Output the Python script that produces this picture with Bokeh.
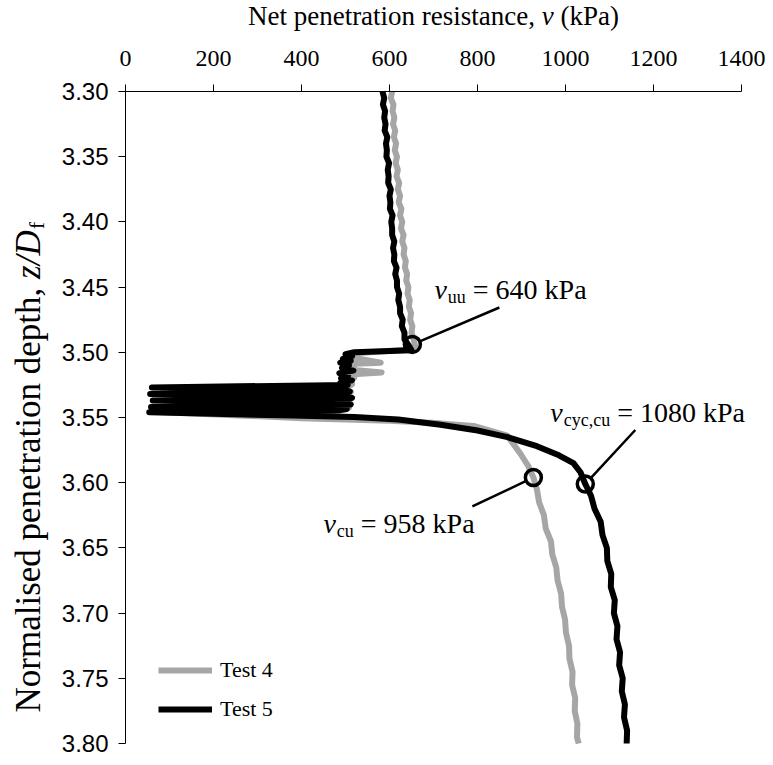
from bokeh.plotting import figure
from bokeh.models import Range1d, Label, Legend, LegendItem, FixedTicker, NumeralTickFormatter, LinearAxis
from bokeh.embed import file_html
from bokeh.resources import INLINE

# ---------------- data ----------------
x_ticks = [0, 200, 400, 600, 800, 1000, 1200, 1400]
y_ticks = [3.30, 3.35, 3.40, 3.45, 3.50, 3.55, 3.60, 3.65, 3.70, 3.75, 3.80]

# Test 4 (grey)
t4_z = [3.300, 3.305, 3.310, 3.315, 3.320, 3.325, 3.330, 3.335, 3.340, 3.345,
        3.350, 3.355, 3.360, 3.365, 3.370, 3.375, 3.380, 3.385, 3.390, 3.395,
        3.400, 3.405, 3.410, 3.415, 3.420, 3.425, 3.430, 3.435, 3.440, 3.445,
        3.450, 3.455, 3.460, 3.465, 3.470, 3.475, 3.480, 3.485, 3.490, 3.495,
        3.4975, 3.5005, 3.5025, 3.5045, 3.5080, 3.5090, 3.5110, 3.5130, 3.5155, 3.5170,
        3.5195, 3.5220, 3.5245, 3.5275, 3.5305, 3.5335, 3.5365, 3.5395, 3.5425, 3.5455,
        3.5505, 3.5525, 3.5545, 3.5565, 3.5640, 3.5780, 3.5870, 3.5960,
        3.605, 3.615, 3.625, 3.635, 3.645, 3.655, 3.665, 3.675, 3.685, 3.695,
        3.705, 3.715, 3.725, 3.735, 3.745, 3.755, 3.765, 3.775, 3.785, 3.795, 3.800]
t4_v = [606, 603, 609, 607, 611, 608, 613, 610, 615, 612,
        617, 614, 619, 616, 622, 619, 624, 621, 627, 624,
        629, 626, 632, 629, 634, 632, 637, 635, 640, 638,
        643, 641, 646, 644, 649, 647, 652, 650, 655, 658,
        660, 532, 510, 524, 580, 506, 520, 502, 582, 508,
        520, 500, 515, 498, 512, 496, 510, 494, 508, 62,
        400, 600, 716, 791, 868, 898, 915, 927,
        935, 940, 951, 955, 967, 970, 979, 982, 990, 992,
        999, 1001, 1008, 1009, 1016, 1015, 1022, 1021, 1027, 1026, 1030]

# Test 5 (black)
t5_z = [3.300, 3.305, 3.310, 3.315, 3.320, 3.325, 3.330, 3.335, 3.340, 3.345,
        3.350, 3.355, 3.360, 3.365, 3.370, 3.375, 3.380, 3.385, 3.390, 3.395,
        3.400, 3.405, 3.410, 3.415, 3.420, 3.425, 3.430, 3.435, 3.440, 3.445,
        3.450, 3.455, 3.460, 3.465, 3.470, 3.475, 3.480, 3.485, 3.490, 3.495,
        3.4985, 3.5000, 3.5015, 3.5030, 3.5050, 3.5065, 3.5080, 3.5100, 3.5120, 3.5140,
        3.5160, 3.5180, 3.5200, 3.5215, 3.5235, 3.5250, 3.5270, 3.5285, 3.5300, 3.5320,
        3.5335, 3.5350, 3.5370, 3.5385, 3.5400, 3.5420, 3.5435, 3.5445, 3.5460, 3.5472,
        3.5485, 3.5497, 3.5515, 3.5555, 3.5600, 3.5650, 3.5720, 3.5790, 3.5850, 3.5920,
        3.6010, 3.610, 3.620, 3.630, 3.640, 3.650, 3.660, 3.670, 3.680, 3.690,
        3.700, 3.710, 3.720, 3.730, 3.740, 3.750, 3.760, 3.770, 3.780, 3.790, 3.800]
t5_v = [584, 588, 585, 590, 588, 591, 589, 595, 592, 594,
        593, 599, 596, 598, 597, 603, 600, 602, 601, 607,
        604, 606, 606, 611, 608, 611, 610, 616, 613, 617,
        617, 622, 620, 624, 624, 630, 628, 634, 634, 644,
        650, 520, 500, 515, 494, 512, 488, 508, 492, 518,
        486, 506, 490, 515, 488, 505, 60, 486, 510, 56,
        496, 515, 62, 490, 512, 58, 503, 486, 54, 200,
        380, 520, 620, 716, 800, 868, 935, 985, 1018, 1034,
        1045, 1058, 1066, 1080, 1084, 1094, 1095, 1104, 1103, 1112,
        1110, 1118, 1116, 1124, 1122, 1130, 1128, 1135, 1133, 1140, 1139]

# annotated points
annot_v = [652, 927, 1045]
annot_z = [3.494, 3.596, 3.601]
annot_sub = ["uu", "cu", "cyc,cu"]
annot_val = ["640", "958", "1080"]

series_names = ["Test 4", "Test 5"]

# ---------------- layout ----------------
W, H = 773, 765
BL, BR, BT, BB = 125, 32, 91, 22          # data area inset inside the canvas (px)
FW = W - BL - BR
FH = H - BT - BB
X0, X1 = 0, 1400
Y0, Y1 = 3.30, 3.80
px_x = (X1 - X0) / FW
px_y = (Y1 - Y0) / FH

p = figure(width=W, height=H, output_backend="svg", toolbar_location=None,
           x_range=Range1d(X0 - BL * px_x, X1 + BR * px_x),
           y_range=Range1d(Y1 + BB * px_y, Y0 - BT * px_y),
           x_axis_type=None, y_axis_type=None,
           min_border_left=0, min_border_right=0, min_border_top=0, min_border_bottom=0)
p.outline_line_color = None
p.background_fill_color = "white"
p.border_fill_color = "white"

SERIF = "Liberation Serif"
SANS = "Liberation Sans"

xax = LinearAxis(fixed_location=Y0, bounds=(X0, X1), ticker=FixedTicker(ticks=x_ticks))
yax = LinearAxis(fixed_location=X0, bounds=(Y0, Y1), ticker=FixedTicker(ticks=y_ticks),
                 formatter=NumeralTickFormatter(format="0.00"))
for ax in (xax, yax):
    ax.axis_line_color = "black"
    ax.axis_line_width = 1
    ax.major_tick_line_color = "black"
    ax.major_tick_out = 7
    ax.major_tick_in = 0
    ax.minor_tick_out = 0
    ax.minor_tick_in = 0
    ax.major_label_text_color = "black"
    ax.major_label_text_font_size = "24px"
xax.major_label_text_font = SERIF
xax.major_label_standoff = 19
yax.major_label_text_font = SANS
yax.major_label_standoff = 10
p.add_layout(xax, "above")
p.add_layout(yax, "left")

GREY = "#a6a6a6"
r4 = p.line(t4_v, t4_z, line_color=GREY, line_width=6, line_join="round")
r5 = p.line(t5_v, t5_z, line_color="black", line_width=6, line_join="round")

# ---------------- text helpers ----------------
TIMES = {' ': 250, ',': 250, '.': 250, '/': 278, '(': 333, ')': 333, '=': 564,
         'N': 722, 'D': 722, 'P': 556, 'T': 611,
         'a': 444, 'c': 444, 'd': 500, 'e': 444, 'f': 333, 'h': 500, 'i': 278,
         'k': 500, 'l': 278, 'm': 778, 'n': 500, 'o': 500, 'p': 500, 'r': 333,
         's': 389, 't': 278, 'u': 500, 'v': 500, 'y': 500, 'z': 444}
TIMES_I = {'v': 444, 'z': 389, '/': 278, 'D': 722}


def tw(s, size, italic=False):
    tab = TIMES_I if italic else TIMES
    return sum(tab.get(c, 500) for c in s) * size / 1000.0


def lab(x, y, text, size, dx=0, dy=0, italic=False, angle=0.0):
    p.add_layout(Label(x=x, y=y, x_offset=dx, y_offset=dy, text=text,
                       text_font=SERIF, text_font_size=f"{size}px",
                       text_font_style="italic" if italic else "normal",
                       text_color="black", text_align="left",
                       text_baseline="middle", angle=angle))


# circles + leaders + labels
F, FS = 28, 18
text_off = [(22, 55), (-210, -46), (-35, 72)]     # text start / centre, px from marker
lead_off = [(87, 37), (-61, -29), (50, 54)]       # leader end, px from marker
R = 8
for v, z, sub, val, (tx, ty), (lx, ly) in zip(annot_v, annot_z, annot_sub, annot_val, text_off, lead_off):
    L = (lx ** 2 + ly ** 2) ** 0.5
    sx, sy = lx / L * R, ly / L * R
    p.segment(x0=[v + sx * px_x], y0=[z - sy * px_y], x1=[v + lx * px_x], y1=[z - ly * px_y],
              line_color="black", line_width=2.5)
    d = tx
    lab(v, z, "v", F, d, ty, italic=True)
    d += tw("v", F, True) + 1
    lab(v, z, sub, FS, d, ty - 8)
    d += tw(sub, FS) + tw(" ", F)
    lab(v, z, "= " + val + " kPa", F, d, ty)

p.scatter(annot_v, annot_z, size=16, marker="circle", fill_alpha=0,
          line_color="black", line_width=3.5)

# x-axis title (above)
FT = 27
p1, p2, p3 = "Net penetration resistance, ", "v", " (kPa)"
wt = tw(p1, FT) + tw(p2, FT, True) + tw(p3, FT)
xc = (X0 + X1) / 2
d = -wt / 2
lab(xc, Y0, p1.rstrip(), FT, d, 76)
d += tw(p1, FT)
lab(xc, Y0, p2, FT, d, 76, italic=True)
d += tw(p2, FT, True) + tw(" ", FT)
lab(xc, Y0, p3.strip(), FT, d, 76)

# y-axis title (rotated, reads bottom to top)
FY, FYS = 35, 22
q1, q2, q3 = "Normalised penetration depth, ", "z/D", "f"
yc = (Y0 + Y1) / 2
ang = 3.141592653589793 / 2
d = -295
lab(X0, yc, q1.rstrip(), FY, -97, d, angle=ang)
d += tw(q1, FY)
lab(X0, yc, q2, FY, -97, d, italic=True, angle=ang)
d += tw(q2, FY, True) + 1
lab(X0, yc, q3, FYS, -89, d, angle=ang)

legend = Legend(items=[LegendItem(label=series_names[0], renderers=[r4]),
                       LegendItem(label=series_names[1], renderers=[r5])],
                location=(BL + 33, 43), padding=0, margin=0, spacing=13,
                glyph_width=54, glyph_height=24, label_height=24, label_standoff=8,
                label_text_font=SERIF, label_text_font_size="22px",
                label_text_color="black",
                border_line_alpha=0, background_fill_alpha=0)
p.add_layout(legend)

open("out.html", "w").write(file_html(p, INLINE))
